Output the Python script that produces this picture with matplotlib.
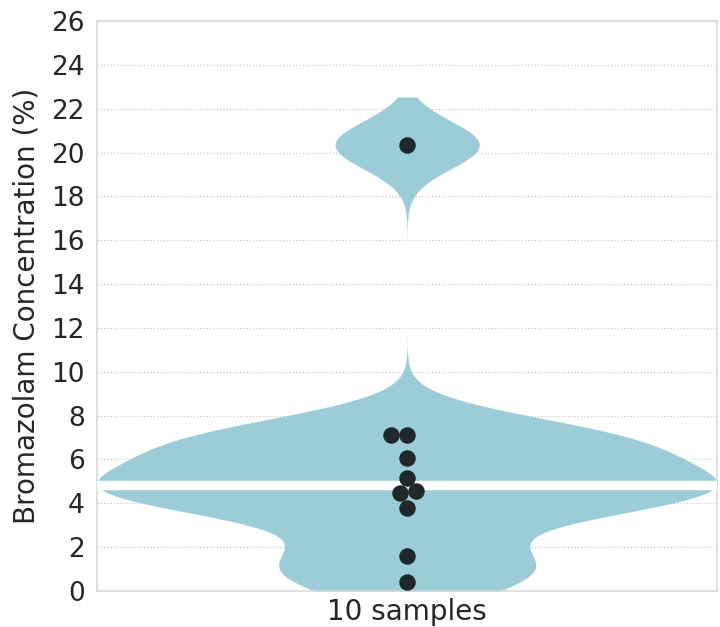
import numpy as np
import matplotlib
matplotlib.use("Agg")
import matplotlib.pyplot as plt

plt.rcParams["font.family"] = ["DejaVu Sans"]

# Measured concentrations (%)
concentrations = [20.35, 7.1, 7.1, 6.05, 5.15, 4.55, 4.45, 3.8, 1.6, 0.4]
category_label = "10 samples"
y_label = "Bromazolam Concentration (%)"
y_ticks = list(range(0, 27, 2))

violin_color = (0.54, 0.77, 0.82)
point_color = (0.12, 0.16, 0.17)

data = np.asarray(concentrations, dtype=float)

fig = plt.figure(figsize=(7.2, 6.27), dpi=100)
ax = fig.add_axes([0.135, 0.0574, 0.861, 0.909])
ax.set_xlim(-0.5, 0.5)
ax.set_ylim(0, 26)

# Gaussian KDE (bandwidth factor times sample std), cut at 2 bandwidths
bw = 0.2 * data.std(ddof=1)
grid = np.linspace(data.min() - 2 * bw, data.max() + 2 * bw, 600)
dens = np.exp(-0.5 * ((grid[:, None] - data[None, :]) / bw) ** 2).sum(axis=1)
half = 0.5 * dens / dens.max()
ax.fill_betweenx(grid, -half, half, color=violin_color, alpha=0.85,
                 linewidth=0, zorder=2)

# Median line
ax.axhline(np.median(data), color="white", lw=6.8, zorder=3)

# Swarm layout in display space so markers don't overlap
fig.canvas.draw()
diam = 16.0  # pixels
to_px = ax.transData
order = np.argsort(data)
placed = []
xs = np.zeros(len(data))
cx0 = to_px.transform((0, 0))[0]
for i in order:
    py = to_px.transform((0, data[i]))[1]
    cands = [0.0]
    for (px_, py_) in placed:
        dy = py - py_
        if abs(dy) < diam:
            dx = np.sqrt(diam ** 2 - dy ** 2)
            cands += [px_ - dx, px_ + dx]
    cands = sorted(cands, key=lambda c: (round(abs(c), 6), c))
    for c in cands:
        ok = all((c - px_) ** 2 + (py - py_) ** 2 >= diam ** 2 - 1e-6
                 for (px_, py_) in placed)
        if ok:
            break
    placed.append((c, py))
    xs[i] = to_px.inverted().transform((cx0 + c, py))[0]

ax.scatter(xs, data, s=(16.5 * 0.72) ** 2, color=point_color, linewidth=0,
           zorder=4)

# Styling
ax.set_yticks(y_ticks)
ax.set_xticks([0])
ax.set_xticklabels([category_label])
ax.tick_params(axis="y", length=0, labelsize=19, colors="#262626", pad=9)
ax.tick_params(axis="x", length=0, labelsize=20, colors="#262626", pad=5)
ax.set_ylabel(y_label, fontsize=20, color="#262626", labelpad=8)
ax.grid(axis="y", linestyle=":", color="#c8c8c8", linewidth=0.9, zorder=0)
ax.set_axisbelow(True)
for sp in ax.spines.values():
    sp.set_color("#d9d9d9")
    sp.set_linewidth(1.2)

fig.savefig("out.png", dpi=100)
